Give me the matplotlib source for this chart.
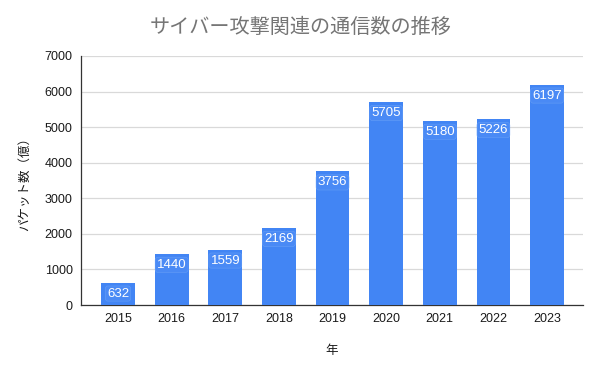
import matplotlib
matplotlib.use("Agg")
import matplotlib.pyplot as plt

plt.rcParams['font.family'] = ['Liberation Sans', 'Noto Sans CJK JP', 'DejaVu Sans']

# data
years = ['2015', '2016', '2017', '2018', '2019', '2020', '2021', '2022', '2023']
packets = [632, 1440, 1559, 2169, 3756, 5705, 5180, 5226, 6197]
yticks = [0, 1000, 2000, 3000, 4000, 5000, 6000, 7000]

fig = plt.figure(figsize=(6.02, 3.72), dpi=100)
ax = fig.add_axes([0.1346, 0.180, 0.8338, 0.6695])

x = range(len(years))
bars = ax.bar(x, packets, width=0.63, color='#4285F4', zorder=3)

for xi, v in zip(x, packets):
    ax.annotate(str(v), (xi, v), xytext=(0, -11), textcoords='offset pixels',
                ha='center', va='center', color='white', fontsize=9.5, zorder=4,
                bbox=dict(boxstyle='round,pad=0.12,rounding_size=0.2',
                          fc='#4a8af5', ec='#5f9af6', lw=0.5))

ax.set_xlim(-0.69, 8.67)
ax.set_ylim(0, 7000)
ax.set_xticks(list(x))
ax.set_xticklabels(years)
ax.set_yticks(yticks)
ax.tick_params(axis='both', length=0, labelsize=9, colors='#1a1a1a')
ax.tick_params(axis='x', pad=6)
ax.tick_params(axis='y', pad=6)

ax.grid(axis='y', color='#d9d9d9', lw=0.9, zorder=0)
for s in ['top', 'right']:
    ax.spines[s].set_visible(False)
ax.spines['left'].set_color('#333333')
ax.spines['bottom'].set_color('#333333')
ax.spines['left'].set_linewidth(0.9)
ax.spines['bottom'].set_linewidth(0.9)

ax.set_xlabel('年', fontsize=9, color='#1a1a1a', labelpad=14)
ax.set_ylabel('パケット数（億）', fontsize=9, color='#1a1a1a', labelpad=10)
fig.text(0.5, 0.927, 'サイバー攻撃関連の通信数の推移', ha='center', va='center',
         fontsize=14.5, color='#757575')

fig.savefig('out.png', dpi=100)
